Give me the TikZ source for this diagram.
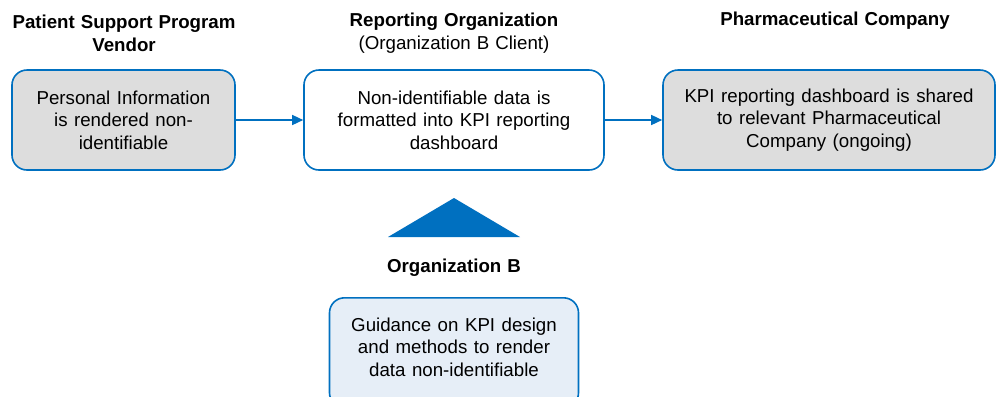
\documentclass[tikz,border=0pt]{standalone}
\usepackage{fontspec}
\setmainfont{Liberation Sans}
\usetikzlibrary{arrows.meta}
\definecolor{lineblue}{HTML}{0070C0}
\definecolor{boxgray}{HTML}{DDDDDD}
\definecolor{boxpale}{HTML}{E6EEF7}
\newcommand{\bodyfont}{\fontsize{18.7bp}{22.5bp}\selectfont\spaceskip=6.5bp plus 1bp\relax}
\newcommand{\headfont}{\fontsize{18.7bp}{23bp}\selectfont\spaceskip=6bp plus 1bp\relax}
\tikzset{
  bodytext/.style={align=center, inner sep=0pt, font=\bodyfont},
  stepbox/.style={bodytext, draw=lineblue, line width=1.6bp, rounded corners=15bp},
  heading/.style={align=center, inner sep=0pt, font=\headfont},
  flow/.style={draw=lineblue, line width=1.4bp, -{Triangle[length=11bp,width=10bp]}}
}
\begin{document}
\begin{tikzpicture}[x=1bp, y=-1bp]
\clip (0,0) rectangle (996,396);
\fill[white] (0,0) rectangle (996,396);

% column headings
\node[heading] (h1) at (124,33) {\textbf{Patient Support Program}\\\textbf{Vendor}};
\node[heading] (h2) at (454,33) {\textbf{Reporting Organization}\\(Organization B Client)};
\node[heading] (h3) at (835,21) {\textbf{Pharmaceutical Company}};

% process boxes
\node[stepbox, fill=boxgray, minimum width=223bp, minimum height=100bp] (vendor) at (123.5,120)
  {Personal Information\\is rendered non-\\identifiable};
\node[stepbox, fill=white, minimum width=300bp, minimum height=100bp] (report) at (454,120)
  {Non-identifiable data is\\formatted into KPI reporting\\dashboard};
\node[stepbox, fill=boxgray, minimum width=332bp, minimum height=100bp] (pharma) at (829,120)
  {KPI reporting dashboard is shared\\to relevant Pharmaceutical\\Company (ongoing)};

% guidance from Organization B
\path[fill=lineblue] (454,198) coordinate (apex) -- (520,237) coordinate (baseR)
  -- (388,237) coordinate (baseL) -- cycle;
\node[heading] (h4) at (454,268) {\textbf{Organization B}};
\node[stepbox, fill=boxpale, minimum width=249bp, minimum height=110bp, anchor=north] (orgb) at (454,297) {};
\node[bodytext] (orgbtext) at (454,347)
  {Guidance on KPI design\\and methods to render\\data non-identifiable};

% flow arrows
\draw[flow] (vendor.east) -- (report.west);
\draw[flow] (report.east) -- (pharma.west);
\end{tikzpicture}
\end{document}
